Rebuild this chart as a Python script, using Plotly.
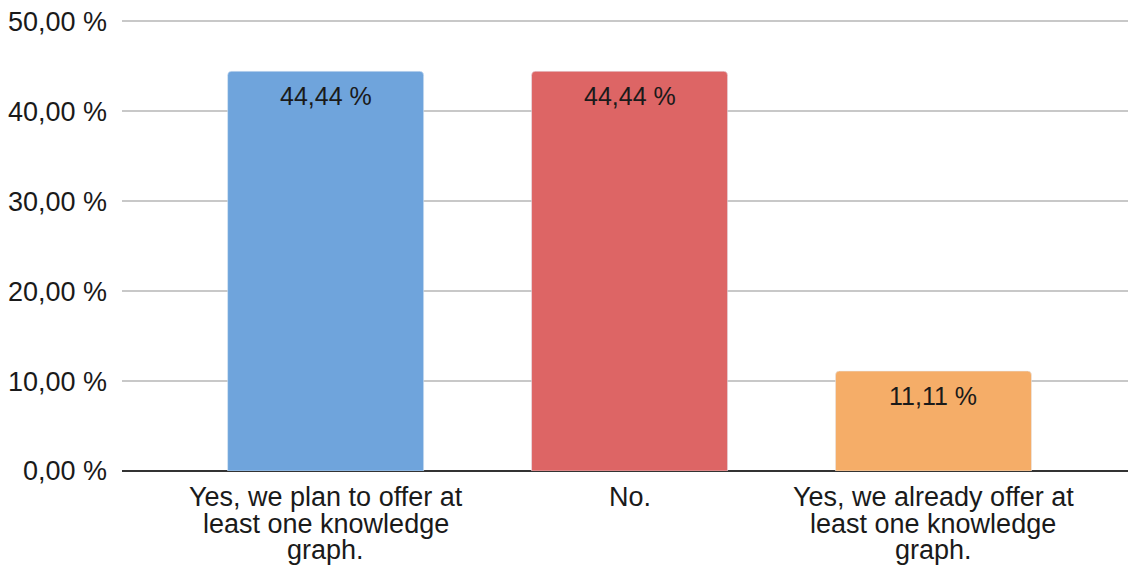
import plotly.graph_objects as go

categories = ["Yes, we plan to offer at<br>least one knowledge<br>graph.",
              "No.",
              "Yes, we already offer at<br>least one knowledge<br>graph."]
values = [44.44, 44.44, 11.11]
colors = ["#6FA4DC", "#DD6565", "#F5AD68"]
y_ticks = [0, 10, 20, 30, 40, 50]
y_tick_labels = ["0,00 %", "10,00 %", "20,00 %", "30,00 %", "40,00 %", "50,00 %"]
value_labels = [f"{v:.2f} %".replace(".", ",") for v in values]

FONT = "Liberation Sans, Arial, sans-serif"
x_idx = list(range(len(categories)))

fig = go.Figure()
fig.add_trace(go.Bar(
    x=x_idx, y=values, marker_color=colors, width=0.645, hoverinfo="skip",
))

annotations = []
for i, (v, lab) in enumerate(zip(values, value_labels)):
    annotations.append(dict(
        x=i, y=v, xref="x", yref="y", text=lab, showarrow=False,
        xanchor="center", yanchor="top", yshift=-9,
        font=dict(family=FONT, size=25, color="#1a1a1a"),
    ))
for i, cat in enumerate(categories):
    for j, line in enumerate(cat.split("<br>")):
        annotations.append(dict(
            x=i, y=0, xref="x", yref="y", text=line, showarrow=False,
            xanchor="center", yanchor="middle", yshift=-(26 + j * 26.5),
            font=dict(family=FONT, size=27, color="#1a1a1a"),
        ))

fig.update_layout(
    width=1130, height=567,
    margin=dict(l=122, r=2, t=19, b=96),
    plot_bgcolor="white", paper_bgcolor="white",
    showlegend=False, barcornerradius=4,
    annotations=annotations,
    xaxis=dict(range=[-0.67, 2.64], showticklabels=False, showgrid=False,
               zeroline=False, showline=False, fixedrange=True),
    yaxis=dict(range=[0, 50.25], tickvals=y_ticks, ticktext=y_tick_labels,
               showgrid=True, gridcolor="#c8c8c8", gridwidth=2,
               zeroline=True, zerolinecolor="#333333", zerolinewidth=2,
               ticklabelstandoff=14, fixedrange=True,
               tickfont=dict(family=FONT, size=27, color="#1a1a1a")),
)

fig.write_html("out.html", config={"displayModeBar": False},
               post_script="document.body.style.margin='0';document.body.style.padding='0';")
